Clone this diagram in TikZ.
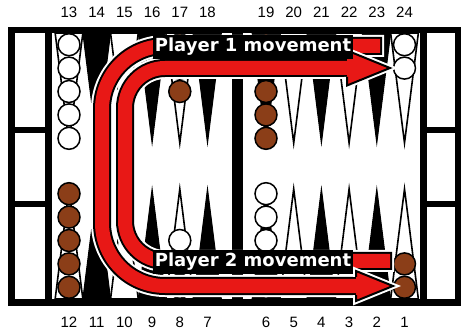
\documentclass[tikz,border=0pt]{standalone}
\usepackage{fontspec}
\setmainfont{Liberation Sans}
\newfontfamily\bandfont{DejaVu Sans}
\definecolor{checkerbrown}{RGB}{139,62,24}
\definecolor{bandred}{RGB}{232,24,22}

\begin{document}
\begin{tikzpicture}[
    x=1pt, y=-1pt,
    numlabel/.style={font=\fontsize{15}{15}\selectfont, inner sep=0pt},
    whitept/.style={fill=white, draw=black, line width=1.6pt},
    blackpt/.style={fill=black, draw=black, line width=1pt},
    checker/.style={draw=black, line width=1.5pt},
    halo/.style={white, line width=22pt, shorten <=-4pt},
    bandedge/.style={black, line width=18pt, shorten <=-2pt},
    bandfill/.style={bandred, line width=14pt},
    headhalo/.style={fill=white, draw=white, line width=6pt},
    headfill/.style={fill=bandred, draw=black, line width=2pt},
    movelabel/.style={fill=black, text=white, font=\bandfont\bfseries\fontsize{18}{18}\selectfont, inner xsep=2pt, inner ysep=3.5pt, anchor=base}
]
  \useasboundingbox (0,0) rectangle (466,331);

  % frame, trays and bar
  \fill[black] (8,27) rectangle (461,306);
  \foreach \xa/\xb in {15/45, 427/455} {
    \fill[white] (\xa,33) rectangle (\xb,127);
    \fill[white] (\xa,133) rectangle (\xb,201);
    \fill[white] (\xa,207) rectangle (\xb,299);
  }
  \fill[white] (52,33) rectangle (232,299);
  \fill[white] (243,33) rectangle (420,299);

  % points
  \foreach \x/\s in {69/whitept, 96.7/blackpt, 124.4/whitept, 152.1/blackpt, 179.8/whitept, 207.5/blackpt,
                     266/blackpt, 293.7/whitept, 321.4/blackpt, 349.1/whitept, 376.8/blackpt, 404.5/whitept} {
    \draw[\s] (\x-13.85,33) -- (\x,143) -- (\x+13.85,33) -- cycle;
    \draw[\s] (\x-13.85,299) -- (\x,189) -- (\x+13.85,299) -- cycle;
  }

  % checkers
  \foreach \x/\n/\c in {69/5/white, 179.8/3/checkerbrown, 266/5/checkerbrown, 404.5/2/white}
    \foreach \k in {1,...,\n}
      \draw[checker, fill=\c] (\x,{44.7+23.4*(\k-1)}) circle[radius=11];
  \foreach \x/\n/\c in {69/5/checkerbrown, 179.8/3/white, 266/5/white, 404.5/2/checkerbrown}
    \foreach \k in {1,...,\n}
      \draw[checker, fill=\c] (\x,{287.3-23.4*(\k-1)}) circle[radius=11];

  % movement bands
  \coordinate (outerfrom) at (380,46);
  \coordinate (outerc1) at (102,46);
  \coordinate (outerc2) at (102,286);
  \coordinate (outerbase) at (356,286);
  \coordinate (outertip) at (393,286);
  \coordinate (innerfrom) at (390,261);
  \coordinate (innerc1) at (125,261);
  \coordinate (innerc2) at (125,68);
  \coordinate (innerbase) at (347,68);
  \coordinate (innertip) at (390,68);

  \foreach \layer in {halo, bandedge, bandfill} {
    \draw[\layer, rounded corners=63pt] (outerfrom) -- (outerc1) -- (outerc2) -- (outerbase);
    \draw[\layer, rounded corners=40pt] (innerfrom) -- (innerc1) -- (innerc2) -- (innerbase);
  }
  \foreach \layer in {headhalo, headfill} {
    \filldraw[\layer] (innerbase) ++(0,-9) -- ++(0,-8.5) -- (innertip) -- ++(-43,17.5) -- ++(0,-8.5);
    \filldraw[\layer] (outerbase) ++(0,-9) -- ++(0,-6) -- (outertip) -- ++(-37,15) -- ++(0,-6);
  }

  % labels
  \node[movelabel] (toplabel) at (253,52) {Player 1 movement};
  \node[movelabel] (bottomlabel) at (253,267) {Player 2 movement};

  % point numbers
  \foreach \x/\t/\b in {69/13/12, 96.7/14/11, 124.4/15/10, 152.1/16/9, 179.8/17/8, 207.5/18/7,
                        266/19/6, 293.7/20/5, 321.4/21/4, 349.1/22/3, 376.8/23/2, 404.5/24/1} {
    \node[numlabel] (n\t) at (\x,12) {\t};
    \node[numlabel] (n\b) at (\x,322.5) {\b};
  }
\end{tikzpicture}
\end{document}
